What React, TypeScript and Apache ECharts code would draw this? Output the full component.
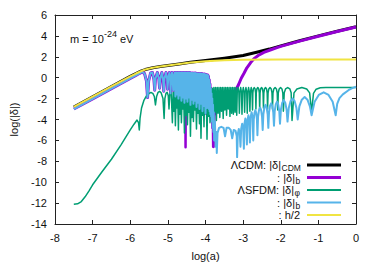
import React, { useEffect, useRef } from "react";
import * as echarts from "echarts";

// axis ranges
const xRange = { min: -8, max: 0, interval: 1 };
const yRange = { min: -14, max: 6, interval: 2 };

// shared early growth of the ΛCDM |δ|_CDM and h/2 curves
const earlyGrowth: number[][] = [
  [-7.5, -2.8], [-7.0, -1.82], [-6.5, -0.84], [-6.0, 0.13], [-5.85, 0.4], [-5.72, 0.62],
  [-5.6, 0.78], [-5.4, 0.95], [-5.2, 1.07], [-5.0, 1.17],
];
const cdmLate: number[][] = [
  [-4.7, 1.32], [-4.4, 1.48], [-4.0, 1.65], [-3.5, 1.87], [-3.0, 2.13], [-2.64, 2.43],
  [-2.3, 2.74], [-2.0, 3.05], [-1.5, 3.53], [-1.0, 4.0], [-0.5, 4.45], [0, 4.88],
];
const hHalfLate: number[][] = [
  [-4.7, 1.3], [-4.4, 1.45], [-4.0, 1.58], [-3.5, 1.68], [-3.0, 1.71], [-2.0, 1.73],
  [-1.0, 1.73], [0, 1.73],
];

// baryons: early part and acoustic oscillations shared by both models
const baryonEarly: number[][] = [
  [-7.5, -3.0], [-7.0, -2.02], [-6.5, -1.04], [-6.0, -0.07], [-5.85, 0.22], [-5.75, 0.42],
];
const baryonOsc: number[][] = [
  [-5.68, 0.55], [-5.62, 0.4], [-5.57, -0.3], [-5.54, -1.9], [-5.51, -0.3], [-5.46, 0.45],
  [-5.41, 0.5], [-5.37, -0.2], [-5.35, -1.2], [-5.33, -0.1], [-5.28, 0.5], [-5.24, -0.1],
  [-5.22, -1.0], [-5.2, -0.1], [-5.16, 0.5], [-5.13, -0.1], [-5.11, -1.3], [-5.09, -0.1],
  [-5.05, 0.5], [-5.02, -0.1], [-5.01, -1.1], [-4.99, -0.1], [-4.96, 0.5], [-4.94, 0.0],
  [-4.93, -1.5], [-4.91, 0.0], [-4.89, 0.5], [-4.87, 0.0], [-4.86, -1.2], [-4.84, 0.0],
  [-4.82, 0.5], [-4.8, -1.8], [-4.78, 0.5], [-4.76, -1.6], [-4.74, 0.5], [-4.72, -2.0],
  [-4.7, 0.5], [-4.68, -1.7], [-4.66, 0.5], [-4.64, -2.2], [-4.62, 0.5], [-4.6, -1.9],
  [-4.58, 0.5], [-4.56, -2.4], [-4.54, 0.5], [-4.52, -2.0], [-4.5, 0.5], [-4.48, -2.3],
  [-4.46, 0.5], [-4.44, -1.9], [-4.42, 0.5], [-4.4, -2.6], [-4.38, 0.45], [-4.36, -2.1],
  [-4.34, 0.45], [-4.32, -2.5], [-4.3, 0.45], [-4.28, -2.2], [-4.26, 0.45], [-4.24, -2.8],
  [-4.22, 0.4], [-4.2, -2.4], [-4.18, 0.4], [-4.16, -3.0], [-4.14, 0.4], [-4.12, -2.5],
  [-4.1, 0.4], [-4.08, -3.2], [-4.06, 0.35], [-4.04, -2.7], [-4.02, 0.35], [-4.0, -3.4],
  [-3.98, 0.3], [-3.96, -2.9], [-3.94, 0.25], [-3.92, 0.1], [-3.91, -3.0], [-3.9, -0.2],
  [-3.89, -3.2], [-3.88, -0.6], [-3.87, -3.5], [-3.86, -1.0], [-3.85, -3.7], [-3.84, -1.5],
  [-3.83, -4.2], [-3.82, -2.0], [-3.81, -4.8], [-3.8, -2.6],
];
// ΛCDM baryons: deep single dips inside the oscillations, then the growth
const lcdmBaryonDips: number[][] = [
  [-4.53, -1.8, -6.65], [-4.14, -2.4, -3.8],
];
const lcdmBaryonLate: number[][] = [
  [-3.79, -6.6], [-3.77, -3.6], [-3.72, -3.2], [-3.6, -2.75], [-3.45, -2.25], [-3.3, -1.75],
  [-3.2, -1.25], [-3.12, -0.65], [-3.05, -0.05], [-2.98, 0.4], [-2.9, 0.95], [-2.8, 1.45],
  [-2.7, 1.85], [-2.6, 2.12], [-2.45, 2.42], [-2.28, 2.65], [-2.1, 2.88], [-2.0, 3.0],
  [-1.5, 3.5], [-1.0, 3.97], [-0.5, 4.42], [0, 4.85],
];
// ΛSFDM baryons after the cut-off
const sfdmBaryonLate: number[][] = [
  [-3.79, -5.2], [-3.78, -3.3], [-3.77, -6.0], [-3.75, -4.2], [-3.73, -6.6], [-3.71, -5.2],
  [-3.7, -7.2], [-3.68, -5.3], [-3.64, -4.8], [-3.58, -4.7], [-3.52, -4.8], [-3.48, -5.6],
  [-3.44, -4.8], [-3.38, -4.8], [-3.33, -5.0], [-3.29, -5.8], [-3.25, -5.0], [-3.2, -5.1],
  [-3.17, -5.6], [-3.16, -7.6], [-3.142, -5.4], [-3.115, -4.9], [-3.088, -5.4], [-3.07, -6.6],
  [-3.052, -4.9], [-3.025, -4.4], [-2.998, -4.9], [-2.98, -6.8], [-2.964, -4.4], [-2.94, -3.9],
  [-2.916, -4.4], [-2.9, -6.4], [-2.884, -4.1], [-2.86, -3.6], [-2.836, -4.1], [-2.82, -6.2],
  [-2.802, -3.8], [-2.775, -3.3], [-2.748, -3.8], [-2.73, -6.0], [-2.717, -4.0], [-2.697, -3.35],
  [-2.675, -3.1], [-2.653, -3.35], [-2.633, -4.0], [-2.62, -5.5], [-2.603, -3.75], [-2.578, -3.1],
  [-2.55, -2.85], [-2.522, -3.1], [-2.497, -3.75], [-2.48, -5.0], [-2.462, -3.5], [-2.435, -2.85],
  [-2.405, -2.6], [-2.375, -2.85], [-2.348, -3.5], [-2.33, -4.8], [-2.312, -3.35], [-2.285, -2.7],
  [-2.255, -2.45], [-2.225, -2.7], [-2.198, -3.35], [-2.18, -4.6], [-2.161, -3.2], [-2.132, -2.55],
  [-2.1, -2.3], [-2.068, -2.55], [-2.039, -3.2], [-2.02, -4.4], [-1.996, -3.05], [-1.96, -2.4],
  [-1.92, -2.15], [-1.88, -2.4], [-1.844, -3.05], [-1.82, -4.2], [-1.787, -2.9], [-1.74, -2.25],
  [-1.685, -2.0], [-1.63, -2.25], [-1.583, -2.9], [-1.55, -4.0], [-1.505, -2.75], [-1.44, -2.1],
  [-1.365, -1.85], [-1.29, -2.1], [-1.225, -2.75], [-1.18, -3.6], [-1.1, -2.3], [-0.99, -1.65],
  [-0.86, -1.4], [-0.73, -1.65], [-0.62, -2.3], [-0.54, -3.6], [-0.5, -2.5], [-0.44, -1.95],
  [-0.35, -1.6], [-0.2, -1.2], [-0.1, -1.0], [0, -0.87],
];

// ΛSFDM scalar field |δ|_φ
const phiGrowth: number[][] = [
  [-7.5, -12.1], [-7.4, -12.07], [-7.3, -11.85], [-7.2, -11.4], [-7.1, -10.85], [-7.0, -10.25],
  [-6.75, -9.0], [-6.5, -7.8], [-6.25, -6.45], [-6.0, -5.0], [-5.9, -4.45], [-5.82, -4.05],
  [-5.78, -4.3], [-5.76, -5.0], [-5.74, -3.9], [-5.7, -2.9], [-5.64, -2.2], [-5.57, -1.75],
  [-5.5, -1.5], [-5.45, -1.42], [-5.4, -1.5], [-5.36, -1.8], [-5.33, -2.6], [-5.3, -1.8],
  [-5.26, -1.4], [-5.22, -1.3], [-5.18, -1.45], [-5.13, -2.0], [-5.1, -3.9], [-5.08, -2.0],
  [-5.05, -1.5], [-5.02, -1.4], [-4.99, -1.7], [-4.97, -3.0], [-4.95, -1.6], [-4.93, -1.35],
  [-4.91, -1.6], [-4.88, -4.3],
];
const phiDense: number[][] = [
  [-4.86, -1.4], [-4.84, -3.2], [-4.82, -1.4], [-4.8, -4.6], [-4.78, -1.4], [-4.76, -2.9],
  [-4.74, -1.4], [-4.72, -5.0], [-4.7, -1.4], [-4.68, -3.5], [-4.66, -1.4], [-4.64, -4.3],
  [-4.62, -1.5], [-4.6, -3.0], [-4.58, -1.5], [-4.56, -5.3], [-4.54, -1.5], [-4.52, -3.6],
  [-4.5, -1.5], [-4.48, -4.5], [-4.46, -1.5], [-4.44, -3.3], [-4.42, -1.5], [-4.4, -5.6],
  [-4.38, -1.5], [-4.36, -3.8], [-4.34, -1.5], [-4.32, -4.2], [-4.3, -1.5], [-4.28, -3.1],
  [-4.26, -1.6], [-4.24, -4.9], [-4.22, -1.6], [-4.2, -3.4], [-4.18, -1.6], [-4.16, -4.4],
  [-4.14, -1.6], [-4.12, -5.8], [-4.1, -1.6], [-4.08, -3.6], [-4.06, -1.6], [-4.04, -4.7],
  [-4.02, -1.6], [-4.0, -3.2], [-3.98, -1.5], [-3.96, -5.9], [-3.94, -1.5], [-3.92, -3.7],
  [-3.9, -1.4], [-3.88, -4.3], [-3.86, -1.2], [-3.84, -3.5], [-3.82, -1.0],
  [-3.8, -3.9], [-3.7775, -0.94], [-3.755, -3.3], [-3.7325, -0.94], [-3.71, -4.1], [-3.6875, -0.94],
  [-3.665, -3.4], [-3.6425, -0.94], [-3.62, -3.8], [-3.5975, -0.94], [-3.575, -3.2], [-3.5525, -0.94],
  [-3.53, -3.9], [-3.5075, -0.94], [-3.485, -3.1], [-3.4625, -0.94], [-3.44, -3.6], [-3.4175, -0.94],
  [-3.395, -3.0], [-3.3725, -0.94], [-3.35, -3.7], [-3.3275, -0.94], [-3.305, -3.4], [-3.2825, -0.94],
  [-3.26, -3.5], [-3.2375, -0.94], [-3.215, -3.3], [-3.1925, -0.94],
];
const phiArches: number[][] = [
  [-3.17, -3.6], [-3.156, -1.4], [-3.135, -0.94], [-3.114, -1.4], [-3.1, -3.4], [-3.086, -1.4],
  [-3.065, -0.94], [-3.044, -1.4], [-3.03, -3.5], [-3.016, -1.4], [-2.995, -0.94], [-2.974, -1.4],
  [-2.96, -3.3], [-2.946, -1.4], [-2.925, -0.94], [-2.904, -1.4], [-2.89, -3.4], [-2.876, -1.4],
  [-2.855, -0.94], [-2.834, -1.4], [-2.82, -3.2], [-2.806, -1.4], [-2.785, -0.94], [-2.764, -1.4],
  [-2.75, -3.1], [-2.741, -1.45], [-2.728, -1.08], [-2.705, -0.94], [-2.682, -1.08], [-2.669, -1.45],
  [-2.66, -3.0], [-2.65, -1.45], [-2.635, -1.08], [-2.61, -0.94], [-2.585, -1.08], [-2.57, -1.45],
  [-2.56, -3.1], [-2.55, -1.45], [-2.535, -1.08], [-2.51, -0.94], [-2.485, -1.08], [-2.47, -1.45],
  [-2.46, -2.9], [-2.449, -1.45], [-2.4325, -1.08], [-2.405, -0.94], [-2.3775, -1.08], [-2.361, -1.45],
  [-2.35, -3.0], [-2.337, -1.45], [-2.3175, -1.08], [-2.285, -0.94], [-2.2525, -1.08], [-2.233, -1.45],
  [-2.22, -3.0], [-2.206, -1.45], [-2.185, -1.08], [-2.15, -0.94], [-2.115, -1.08], [-2.094, -1.45],
  [-2.08, -3.1], [-2.065, -1.45], [-2.0425, -1.08], [-2.005, -0.94], [-1.9675, -1.08], [-1.945, -1.45],
  [-1.93, -3.2], [-1.907, -1.45], [-1.8725, -1.08], [-1.815, -0.94], [-1.7575, -1.08], [-1.723, -1.45],
  [-1.7, -4.1], [-1.648, -1.45], [-1.57, -1.08], [-1.44, -0.94], [-1.31, -1.08], [-1.232, -1.45],
  [-1.18, -3.3], [-1.13, -1.5], [-1.06, -1.1], [-0.95, -0.97], [-0.8, -0.94], [0, -0.93],
];

const colors = {
  cdm: "#000000",
  lcdmB: "#9400d3",
  phi: "#009e73",
  sfdmB: "#56b4e9",
  h: "#f0e442",
};

const legendMain = ["ΛCDM: |δ|", ": |δ|", "ΛSFDM: |δ|", ": |δ|", ": h/2"];
const legendSub = ["CDM", "b", "φ", "b", ""];
const legendColors = [colors.cdm, colors.lcdmB, colors.phi, colors.sfdmB, colors.h];
const legendWidths = [3, 3, 2, 2, 2];
const legendMainRight = [281, 295, 294, 295, 300];

const FONT = "'Liberation Sans', Arial, sans-serif";

export default function App() {
  const ref = useRef<HTMLDivElement>(null);
  useEffect(() => {
    if (!ref.current) return;
    const chart = echarts.init(ref.current, undefined, { renderer: "svg" });
    const line = (data: number[][], color: string, width: number) => ({
      type: "line",
      data,
      showSymbol: false,
      symbol: "none",
      silent: true,
      lineStyle: { color, width, join: "round" },
      itemStyle: { color },
    });
    const axisCommon = {
      type: "value",
      axisLine: { show: true, onZero: false, lineStyle: { color: "#222", width: 1 } },
      axisTick: { show: true, inside: true, length: 4, lineStyle: { color: "#222" } },
      splitLine: { show: false },
    };
    const labelStyle = { fontSize: 11, color: "#111", fontFamily: FONT };
    const series: any[] = [
      line([...earlyGrowth, ...cdmLate], colors.cdm, 3),
      line([...baryonEarly, ...baryonOsc, ...lcdmBaryonLate], colors.lcdmB, 3),
      ...lcdmBaryonDips.map(([x, top, bottom]) =>
        line([[x - 0.006, top], [x, bottom], [x + 0.006, top]], colors.lcdmB, 2.5)
      ),
      line([...phiGrowth, ...phiDense, ...phiArches], colors.phi, 1.5),
      line([...baryonEarly, ...baryonOsc, ...sfdmBaryonLate], colors.sfdmB, 2),
      line([...earlyGrowth, ...hHalfLate], colors.h, 2),
    ];
    const legendY0 = 165;
    const legendDy = 12.5;
    const graphic: any[] = [];
    legendMain.forEach((t, i) => {
      const y = legendY0 + i * legendDy;
      graphic.push({
        type: "text",
        x: legendMainRight[i],
        y,
        z: 100,
        style: {
          text: t,
          align: "right",
          verticalAlign: "middle",
          fontSize: 11,
          lineHeight: 11,
          fontFamily: FONT,
          fill: "#111",
        },
      });
      if (legendSub[i]) {
        graphic.push({
          type: "text",
          x: legendMainRight[i] + 0.5,
          y: y + 3,
          z: 100,
          style: {
            text: legendSub[i],
            align: "left",
            verticalAlign: "middle",
            fontSize: 8.5,
            lineHeight: 8,
            fontFamily: FONT,
            fill: "#111",
          },
        });
      }
      graphic.push({
        type: "line",
        z: 100,
        shape: { x1: 307, y1: y, x2: 341, y2: y },
        style: { stroke: legendColors[i], lineWidth: legendWidths[i] },
      });
    });
    graphic.push({
      type: "text",
      x: 70,
      y: 39,
      z: 100,
      style: {
        text: "{a|m = 10}{p|-24}{a| eV}",
        align: "left",
        verticalAlign: "middle",
        rich: {
          a: { fontSize: 11, fontFamily: FONT, fill: "#111", lineHeight: 20, verticalAlign: "middle" },
          p: { fontSize: 9, fontFamily: FONT, fill: "#111", lineHeight: 9, verticalAlign: "top" },
        },
      },
    });
    chart.setOption({
      animation: false,
      backgroundColor: "#ffffff",
      grid: { left: 54, right: 23, top: 15, bottom: 41 },
      xAxis: [
        {
          ...axisCommon,
          ...xRange,
          position: "bottom",
          name: "log(a)",
          nameLocation: "middle",
          nameGap: 26,
          nameTextStyle: { fontSize: 11, color: "#111", fontFamily: FONT },
          axisLabel: { ...labelStyle, margin: 8 },
        },
        { ...axisCommon, ...xRange, position: "top", axisLabel: { show: false } },
      ],
      yAxis: [
        {
          ...axisCommon,
          ...yRange,
          position: "left",
          name: "log(|δ|)",
          nameLocation: "middle",
          nameGap: 36,
          nameRotate: 90,
          nameTextStyle: { fontSize: 11, color: "#111", fontFamily: FONT },
          axisLabel: { ...labelStyle, margin: 8 },
        },
        { ...axisCommon, ...yRange, position: "right", axisLabel: { show: false } },
      ],
      series,
      graphic,
    });
    return () => chart.dispose();
  }, []);
  return (
    <div
      ref={ref}
      style={{ position: "fixed", left: 0, top: 0, width: 379, height: 266, background: "#fff" }}
    />
  );
}
